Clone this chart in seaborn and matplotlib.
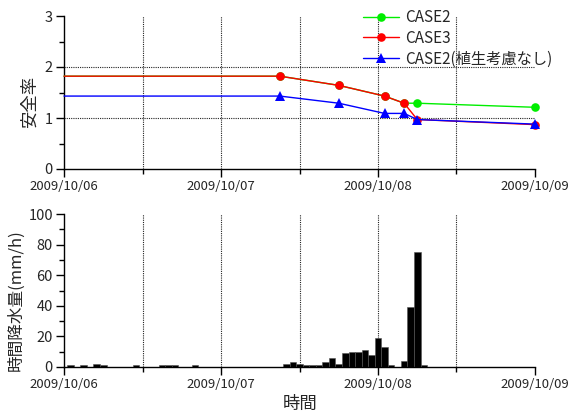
import numpy as np
import pandas as pd
import matplotlib
matplotlib.use("Agg")
import matplotlib.pyplot as plt
import seaborn as sns

# ---- data ----------------------------------------------------------------
# safety factor, hours since 2009/10/06 00:00
sf_hours = [0, 33, 42, 49, 52, 54, 72]
case2 = [1.82, 1.82, 1.64, 1.43, 1.29, 1.29, 1.21]
case3 = [1.82, 1.82, 1.64, 1.43, 1.29, 0.97, 0.87]
case2_noveg = [1.43, 1.43, 1.29, 1.09, 1.09, 0.97, 0.88]

# hourly rainfall (mm/h), one value per hour from 2009/10/06 00:00
rain = [0, 1, 0, 1, 0, 2, 1, 0, 0, 0, 0, 1,
        0, 0, 0, 1, 1, 1, 0, 0, 1, 0, 0, 0,
        0, 0, 0, 0, 0, 0, 0, 0, 0, 0, 2, 3,
        2, 1, 1, 1, 3, 6, 2, 9, 10, 10, 11, 8,
        19, 13, 1, 0, 4, 39, 75, 1, 0, 0, 0, 0,
        0, 0, 0, 0, 0, 0, 0, 0, 0, 0, 0, 0]
rain_hours = list(range(len(rain)))

day_ticks = [0, 24, 48, 72]
day_labels = ["2009/10/06", "2009/10/07", "2009/10/08", "2009/10/09"]

series_names = ["CASE2", "CASE3", "CASE2(植生考慮なし)"]
series_colors = ["#00ee00", "#ff0000", "#0000ff"]
series_markers = ["o", "o", "^"]
series_msize = [6.2, 6.2, 7.6]

# ---- style ---------------------------------------------------------------
sns.set_style("ticks")
plt.rcParams["font.family"] = ["Noto Sans CJK JP", "DejaVu Sans"]
plt.rcParams["axes.unicode_minus"] = False

fig = plt.figure(figsize=(5.72, 4.16), dpi=100)
W, H = 572, 416
ax1 = fig.add_axes([64 / W, 1 - 169 / H, 471 / W, 153 / H])
ax2 = fig.add_axes([64 / W, 1 - 367 / H, 471 / W, 153 / H])

grid_kw = dict(color="#222222", lw=0.8, ls=(0, (1, 1)), zorder=0.5)

def style_axis(ax, ymax, ymajor, yminor):
    ax.set_xlim(0, 72)
    ax.set_ylim(0, ymax)
    ax.set_xticks(day_ticks)
    ax.set_xticklabels(day_labels)
    ax.set_xticks(np.arange(12, 72, 24), minor=True)
    ax.set_yticks(np.arange(0, ymax + 1e-9, ymajor))
    ax.set_yticks(np.arange(0, ymax + 1e-9, yminor), minor=True)
    ax.tick_params(axis="both", which="major", direction="out", length=6,
                   width=1, color="black", labelsize=9.5, pad=2)
    ax.tick_params(axis="both", which="minor", direction="out", length=3.5,
                   width=1, color="black")
    ax.tick_params(axis="y", labelsize=10.5)
    for side in ("top", "right"):
        ax.spines[side].set_visible(False)
    for side in ("left", "bottom"):
        ax.spines[side].set_linewidth(1.0)
        ax.spines[side].set_color("black")
    for xv in np.arange(12, 72, 12):
        ax.axvline(xv, **grid_kw)

# ---- safety factor -------------------------------------------------------
style_axis(ax1, 3, 1, 0.5)
for yv in (1, 2):
    ax1.axhline(yv, **grid_kw)

sf = pd.DataFrame({"hour": sf_hours, "CASE2": case2, "CASE3": case3,
                   "CASE2(植生考慮なし)": case2_noveg})
for name, col, mk, ms in zip(series_names, series_colors, series_markers,
                             series_msize):
    sns.lineplot(data=sf, x="hour", y=name, ax=ax1, color=col, lw=1.0,
                 marker=mk, markersize=ms, markeredgewidth=0,
                 markevery=list(range(1, len(sf_hours))), label=name,
                 clip_on=False, zorder=3)

ax1.set_xlabel("")
ax1.set_ylabel("安全率", fontsize=12.5, va="center")
ax1.yaxis.set_label_coords(-0.072, 0.44)

ax1.legend(loc="upper left", bbox_to_anchor=(363 / W, 1 - 9 / H),
           bbox_transform=fig.transFigure, frameon=False, borderpad=0,
           borderaxespad=0, handlelength=2.35, handletextpad=0.4,
           labelspacing=0.25, fontsize=11)

# ---- hourly rainfall -----------------------------------------------------
style_axis(ax2, 100, 20, 10)
rain_df = pd.DataFrame({"hour": rain_hours, "rain": rain})
sns.histplot(data=rain_df, x="hour", weights="rain", discrete=True,
             ax=ax2, color="black", edgecolor="#555555", linewidth=0.4,
             alpha=1.0, zorder=2)
ax2.set_ylim(0, 100)
ax2.set_xlim(0, 72)
ax2.set_ylabel("時間降水量(mm/h)", fontsize=12, va="center")
ax2.yaxis.set_label_coords(-0.102, 0.44)
ax2.set_xlabel("時間", fontsize=12.5, va="center")
ax2.xaxis.set_label_coords(0.501, -0.242)

fig.savefig("out.png", dpi=100)
